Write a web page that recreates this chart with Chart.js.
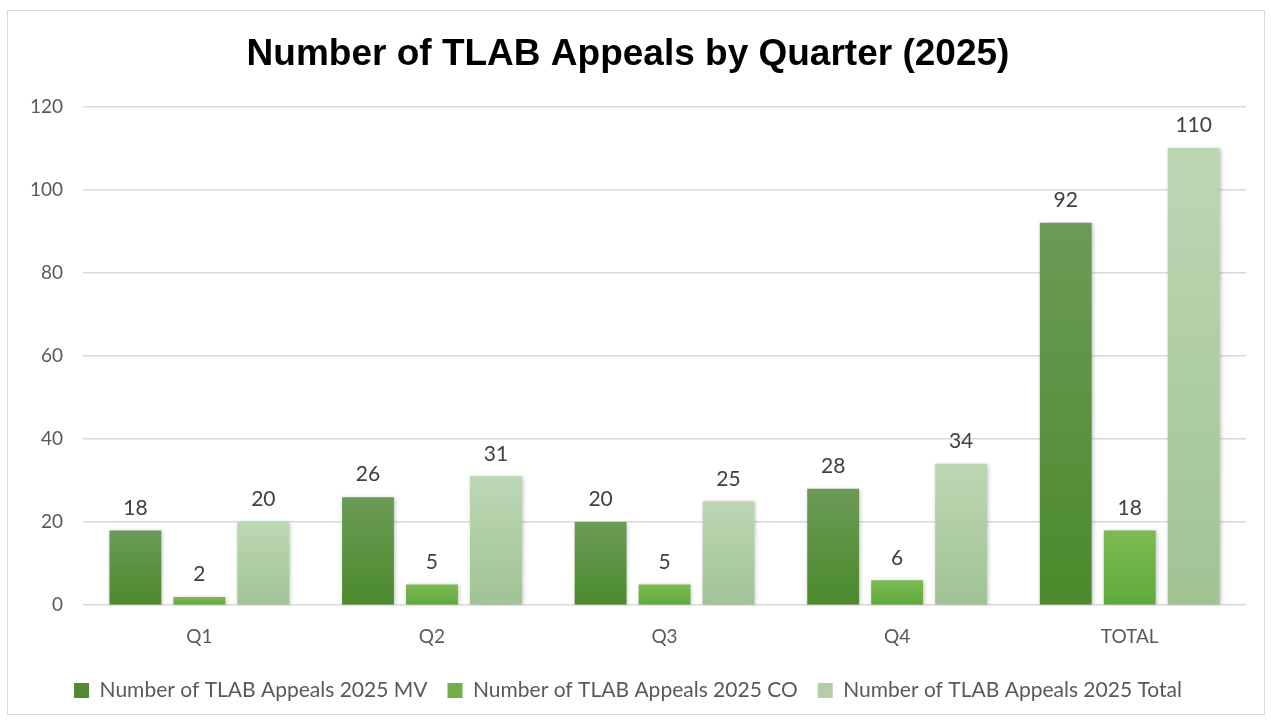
<!DOCTYPE html>
<html>
<head>
<meta charset="utf-8">
<script src="https://cdn.jsdelivr.net/npm/chart.js@4.4.1/dist/chart.umd.min.js"></script>
<style>
  html, body { margin: 0; padding: 0; background: #fff; }
  #wrap { width: 1271px; height: 721px; position: relative; }
</style>
</head>
<body>
<div id="wrap"><canvas id="appealChart" width="1271" height="721"></canvas></div>
<script>
var quarters = ['Q1', 'Q2', 'Q3', 'Q4', 'TOTAL'];
var mvCounts = [18, 26, 20, 28, 92];
var coCounts = [2, 5, 5, 6, 18];
var totalCounts = [20, 31, 25, 34, 110];
var yTicks = [0, 20, 40, 60, 80, 100, 120];

var tickFont = "Lato, 'Open Sans', sans-serif";

// vertical gradient per bar, top colour -> bottom colour
function barGradient(top, bottom) {
    return function (ctx) {
        var chart = ctx.chart;
        var y = chart.scales && chart.scales.y;
        if (!chart.chartArea || !y || ctx.raw === undefined) return bottom;
        var yTop = y.getPixelForValue(ctx.raw);
        var yBase = y.getPixelForValue(0);
        if (!isFinite(yTop) || !isFinite(yBase) || yTop === yBase) return bottom;
        var g = chart.ctx.createLinearGradient(0, yTop, 0, yBase);
        g.addColorStop(0, top);
        g.addColorStop(1, bottom);
        return g;
    };
}

var frameAndLabels = {
    id: 'frameAndLabels',
    beforeDraw: function (chart) {
        var c = chart.ctx;
        c.save();
        c.fillStyle = '#fff';
        c.fillRect(0, 0, chart.width, chart.height);
        c.strokeStyle = '#d9d9d9';
        c.lineWidth = 1;
        c.strokeRect(7.5, 10.5, 1257, 704);
        c.restore();
    },
    afterDatasetsDraw: function (chart) {
        var c = chart.ctx;
        c.save();
        c.font = '21px ' + tickFont;
        c.fillStyle = '#404040';
        c.textAlign = 'center';
        c.textBaseline = 'bottom';
        chart.data.datasets.forEach(function (ds, i) {
            chart.getDatasetMeta(i).data.forEach(function (bar, j) {
                c.fillText(ds.data[j], bar.x, bar.y - 12);
            });
        });
        c.restore();
    }
};

// soft drop shadow under the bars
var barShadow = {
    id: 'barShadow',
    beforeDatasetsDraw: function (chart) {
        chart.ctx.save();
        chart.ctx.shadowColor = 'rgba(0,0,0,0.25)';
        chart.ctx.shadowBlur = 4;
        chart.ctx.shadowOffsetX = 1;
        chart.ctx.shadowOffsetY = 1;
    },
    afterDatasetsDraw: function (chart) {
        chart.ctx.restore();
    }
};

new Chart(document.getElementById('appealChart'), {
    type: 'bar',
    data: {
        labels: quarters,
        datasets: [{
            label: 'Number of TLAB Appeals 2025 MV',
            data: mvCounts,
            backgroundColor: barGradient('#6b9b57', '#4b8a2b'),
            legendColor: '#55892f'
        }, {
            label: 'Number of TLAB Appeals 2025 CO',
            data: coCounts,
            backgroundColor: barGradient('#7cbb54', '#5ea93a'),
            legendColor: '#70b04a'
        }, {
            label: 'Number of TLAB Appeals 2025 Total',
            data: totalCounts,
            backgroundColor: barGradient('#bdd7b4', '#a0c394'),
            legendColor: '#b3cfa8'
        }]
    },
    options: {
        responsive: false,
        animation: false,
        devicePixelRatio: 1,
        layout: { padding: { left: 10, right: 25, top: 14, bottom: 10 } },
        datasets: { bar: { categoryPercentage: 0.825, barPercentage: 0.81 } },
        plugins: {
            title: {
                display: true,
                text: 'Number of TLAB Appeals by Quarter (2025)',
                color: '#000',
                font: { family: "'Liberation Sans', Arial, sans-serif", size: 37, weight: 'bold' },
                padding: { top: 19, bottom: 29 }
            },
            legend: {
                position: 'bottom',
                labels: {
                    color: '#595959',
                    font: { family: tickFont, size: 21 },
                    boxWidth: 15,
                    boxHeight: 15,
                    padding: 20,
                    generateLabels: function (chart) {
                        return chart.data.datasets.map(function (ds, i) {
                            return {
                                text: ds.label,
                                fillStyle: ds.legendColor,
                                strokeStyle: ds.legendColor,
                                lineWidth: 0,
                                fontColor: '#595959',
                                datasetIndex: i
                            };
                        });
                    }
                }
            },
            tooltip: { enabled: false }
        },
        scales: {
            x: {
                grid: { display: false },
                border: { display: false },
                ticks: { color: '#595959', font: { family: tickFont, size: 19 }, padding: 12 }
            },
            y: {
                min: 0,
                max: 120,
                afterBuildTicks: function (axis) {
                    axis.ticks = yTicks.map(function (v) { return { value: v }; });
                },
                grid: { color: '#d9d9d9', lineWidth: 1.5, drawTicks: false },
                border: { display: false },
                ticks: { color: '#595959', font: { family: tickFont, size: 19 }, padding: 20 }
            }
        }
    },
    plugins: [barShadow, frameAndLabels]
});
</script>
</body>
</html>
